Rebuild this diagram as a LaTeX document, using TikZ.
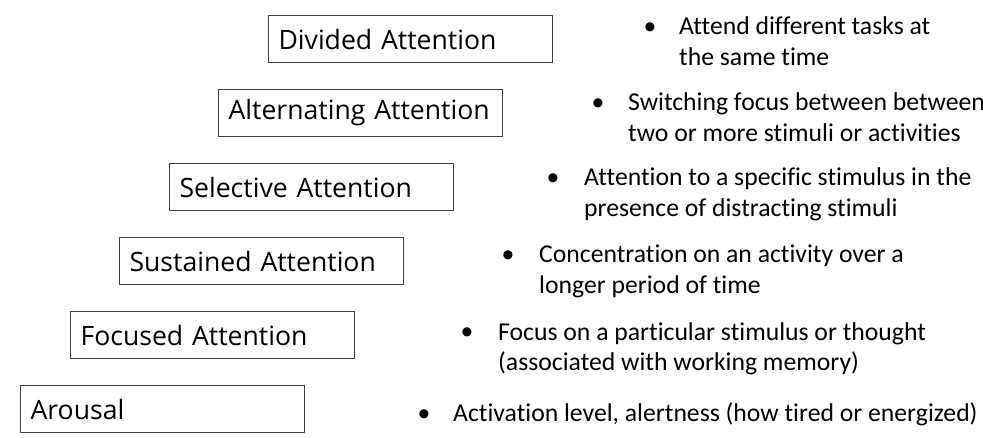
\documentclass[tikz,border=0pt]{standalone}
\usepackage{fontspec}
\setmainfont{Carlito}[Ligatures=NoCommon]
\newfontfamily\levelfont{Open Sans}
\begin{document}
\begin{tikzpicture}[x=1pt,y=-1pt,
  level/.style={draw=black!75, line width=1.1pt, anchor=north west,
    text width=264pt, inner xsep=10pt, inner ysep=0pt, minimum height=47pt,
    align=left, font=\levelfont\fontsize{26.6}{30}\selectfont},
  dot/.style={anchor=base, inner sep=0pt, font=\fontsize{25.7}{30}\selectfont},
  desc/.style={anchor=base west, inner sep=0pt, align=left,
    font=\fontsize{25.7}{30.5}\selectfont}]
\useasboundingbox (0,0) rectangle (983,438);

% stacked levels, each shifted right and up
\node[level] (divided)     at (268,15)  {Divided Attention};
\node[level] (alternating) at (218,89)  {Alternating Attention};
\node[level] (selective)   at (169,163) {Selective Attention};
\node[level] (sustained)   at (119,237) {Sustained Attention};
\node[level] (focused)     at (70,311)  {Focused Attention};
\node[level] (arousal)     at (20,385)  {Arousal};

% descriptions (two-line nodes are placed by their last baseline)
\node[dot]  (bdivided) at (650,35) {•};
\node[desc] (ddivided) at (679,65.5) {Attend different tasks at\\the same time};
\node[dot]  (balternating) at (598,111) {•};
\node[desc] (dalternating) at (628,141.5) {Switching focus between between\\two or more stimuli or activities};
\node[dot]  (bselective) at (553,186) {•};
\node[desc] (dselective) at (584,216.5) {Attention to a specific stimulus in the\\presence of distracting stimuli};
\node[dot]  (bsustained) at (508,263) {•};
\node[desc] (dsustained) at (539,293.5) {Concentration on an activity over a\\longer period of time};
\node[dot]  (bfocused) at (467,340) {•};
\node[desc] (dfocused) at (498,370.5) {Focus on a particular stimulus or thought\\(associated with working memory)};
\node[dot]  (barousal) at (424,421) {•};
\node[desc] (darousal) at (453,421) {Activation level, alertness (how tired or energized)};
\end{tikzpicture}
\end{document}
